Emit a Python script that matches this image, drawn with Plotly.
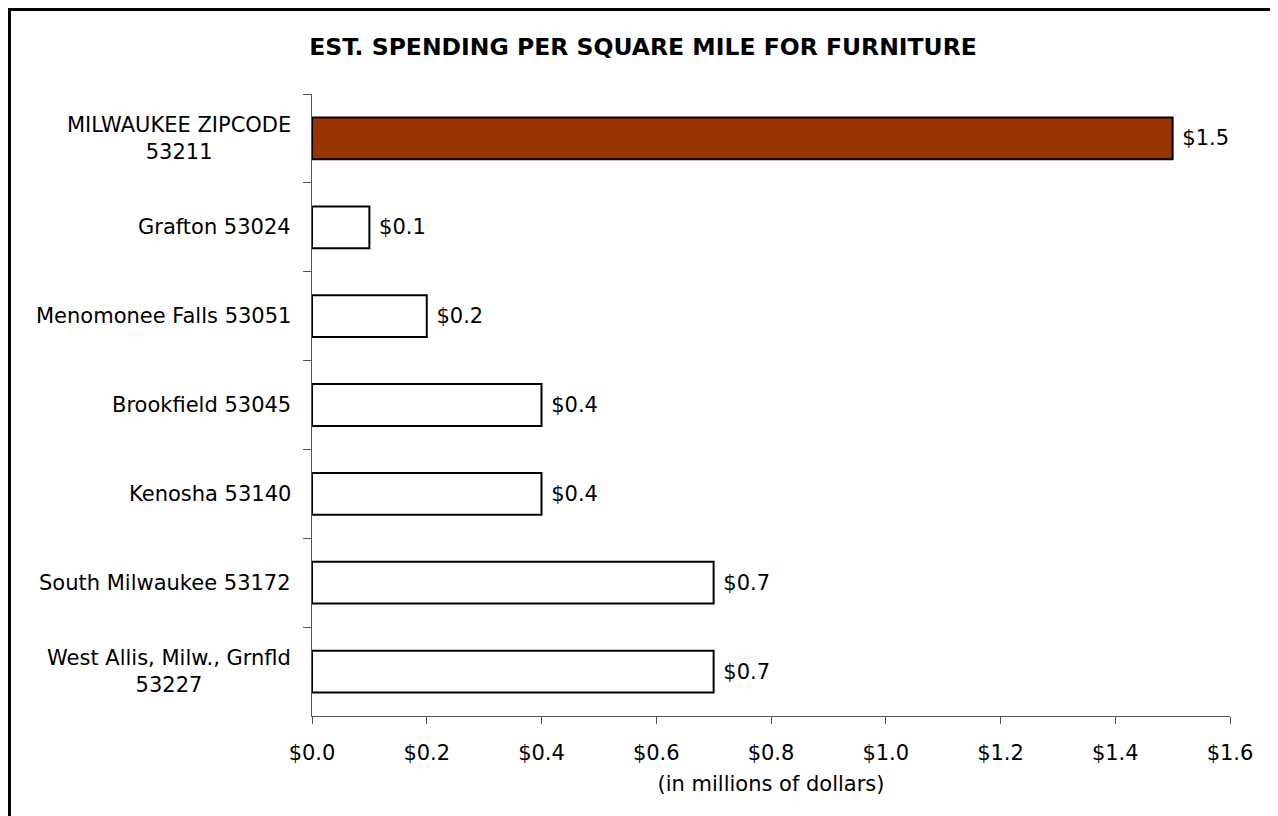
import plotly.graph_objects as go

categories = [
    "MILWAUKEE ZIPCODE<br>53211",
    "Grafton 53024",
    "Menomonee Falls 53051",
    "Brookfield 53045",
    "Kenosha 53140",
    "South Milwaukee 53172",
    "West Allis, Milw., Grnfld<br>53227",
]
values = [1.5, 0.1, 0.2, 0.4, 0.4, 0.7, 0.7]
bar_colors = ["#993300", "#FFFFFF", "#FFFFFF", "#FFFFFF", "#FFFFFF", "#FFFFFF", "#FFFFFF"]
x_ticks = [0.0, 0.2, 0.4, 0.6, 0.8, 1.0, 1.2, 1.4, 1.6]

FONT = "DejaVu Sans"
FS = 21

# page body adds an 8px offset; figure geometry is in figure pixels
W, H = 1270, 808
ML, MR, MT, MB = 304, 48, 86, 100
PW = W - ML - MR
PH = H - MT - MB


def px_x(fx):
    return (fx - ML) / PW


def px_y(fy):
    return (H - MB - fy) / PH


fig = go.Figure()
fig.add_trace(go.Bar(
    y=categories,
    x=values,
    orientation="h",
    marker=dict(color=bar_colors, line=dict(color="#000000", width=2)),
    text=[" $%.1f" % v for v in values],
    textposition="outside",
    textfont=dict(family=FONT, size=FS, color="#000000"),
    cliponaxis=False,
    width=0.47,
    hoverinfo="skip",
))

annotations = []
for c in categories:
    annotations.append(dict(
        x=0, xref="paper", y=c, yref="y",
        text=c, showarrow=False, xanchor="right", yanchor="middle",
        align="center", xshift=-19,
        font=dict(family=FONT, size=FS, color="#000000"),
    ))

shapes = [
    dict(type="line", xref="paper", yref="paper",
         x0=px_x(1.5), x1=px_x(1.5), y0=px_y(1.5), y1=px_y(830),
         line=dict(color="#000000", width=3)),
    dict(type="line", xref="paper", yref="paper",
         x0=px_x(0), x1=px_x(1269), y0=px_y(1.5), y1=px_y(1.5),
         line=dict(color="#000000", width=3)),
    dict(type="line", xref="paper", yref="paper",
         x0=px_x(1268.5), x1=px_x(1268.5), y0=px_y(1.5), y1=px_y(830),
         line=dict(color="#000000", width=1.5)),
]

fig.update_layout(
    width=W, height=H,
    margin=dict(l=ML, r=MR, t=MT, b=MB, autoexpand=False),
    paper_bgcolor="#FFFFFF", plot_bgcolor="#FFFFFF",
    showlegend=False,
    font=dict(family=FONT, size=FS, color="#000000"),
    title=dict(
        text="<b>EST. SPENDING PER SQUARE MILE FOR FURNITURE</b>",
        x=0.5, xanchor="center", y=1 - 39 / H, yanchor="middle",
        font=dict(family=FONT, size=23.5, color="#000000"),
    ),
    xaxis=dict(
        range=[0, 1.6], tickvals=x_ticks,
        ticktext=["$%.1f" % t for t in x_ticks],
        ticks="outside", ticklen=7, tickcolor="#555555", tickwidth=1,
        showline=True, linecolor="#555555", linewidth=1,
        showgrid=False, zeroline=False,
        tickfont=dict(family=FONT, size=FS),
        ticklabelstandoff=11,
        title=dict(text="(in millions of dollars)", standoff=12,
                   font=dict(family=FONT, size=FS)),
        fixedrange=True,
    ),
    yaxis=dict(
        categoryorder="array", categoryarray=categories,
        autorange="reversed",
        showticklabels=False,
        ticks="outside", ticklen=8, tickcolor="#555555", tickwidth=1,
        tickson="boundaries",
        showline=True, linecolor="#555555", linewidth=1,
        showgrid=False, zeroline=False,
        fixedrange=True,
    ),
    annotations=annotations,
    shapes=shapes,
)

fig.write_html("out.html")
